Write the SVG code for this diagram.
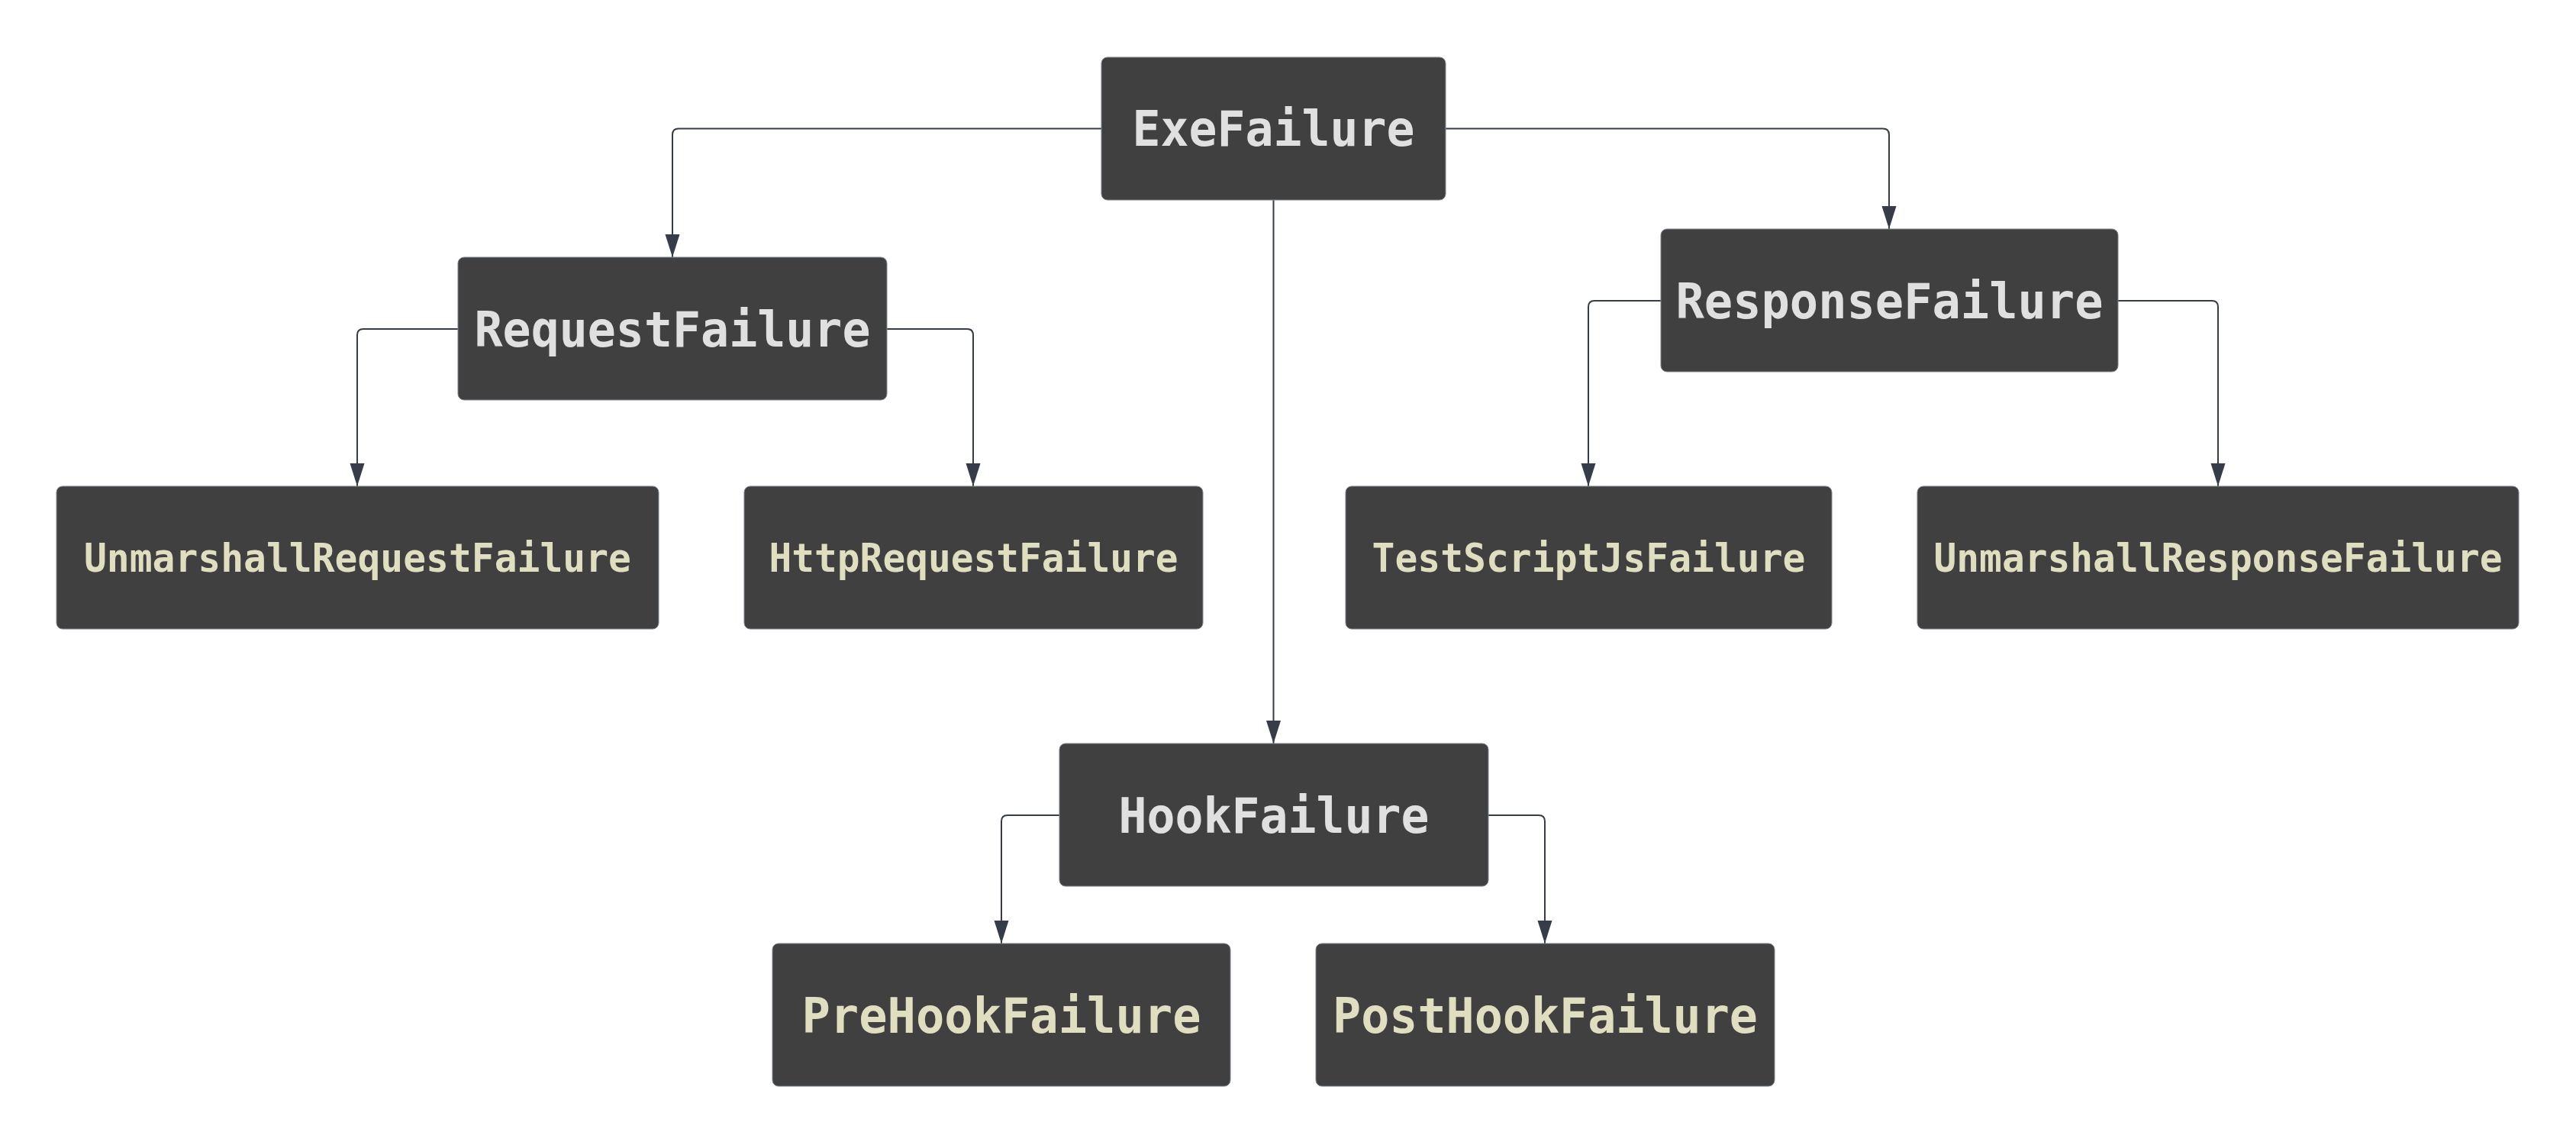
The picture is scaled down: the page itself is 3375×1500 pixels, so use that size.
<svg xmlns="http://www.w3.org/2000/svg" width="3375" height="1500" viewBox="0 0 3375 1500">
<style>
.box{fill:#404040;stroke:#7d8592;stroke-width:1}
.t1{font-family:"DejaVu Sans Mono","Liberation Mono",monospace;font-weight:bold;font-size:64px;fill:#e0e0e0;text-anchor:middle}
.t2{font-family:"DejaVu Sans Mono","Liberation Mono",monospace;font-weight:bold;font-size:51px;fill:#dfdec0;text-anchor:middle}
.t3{font-family:"DejaVu Sans Mono","Liberation Mono",monospace;font-weight:bold;font-size:64px;fill:#dfdec0;text-anchor:middle}
.edge{fill:none;stroke:#373d48;stroke-width:2;marker-end:url(#arr)}
</style>
<defs>
<marker id="arr" markerUnits="userSpaceOnUse" markerWidth="30" markerHeight="20" refX="30" refY="10" orient="auto">
<path d="M0,0.5 L30,10 L0,19.5 z" fill="#373d48"/>
</marker>
</defs>
<rect width="3375" height="1500" fill="#ffffff"/>
<g id="connectors">
<path class="edge" d="M1443,168.5 H889 Q881,168.5 881,176.5 V337"/>
<path class="edge" d="M1894,168.5 H2467 Q2475,168.5 2475,176.5 V300"/>
<path class="edge" d="M1668.5,262 V974"/>
<path class="edge" d="M600,431 H476 Q468,431 468,439 V637"/>
<path class="edge" d="M1162,431 H1267 Q1275,431 1275,439 V637"/>
<path class="edge" d="M2176,394 H2089 Q2081,394 2081,402 V637"/>
<path class="edge" d="M2775,394 H2898 Q2906,394 2906,402 V637"/>
<path class="edge" d="M1388,1068 H1320 Q1312,1068 1312,1076 V1236"/>
<path class="edge" d="M1950,1068 H2016 Q2024,1068 2024,1076 V1236"/>
</g>
<g id="ExeFailure">
<rect class="box" x="1443" y="75" width="451" height="187" rx="8"/>
<text class="t1" x="1668.5" y="191" textLength="370" lengthAdjust="spacingAndGlyphs">ExeFailure</text>
</g>
<g id="RequestFailure">
<rect class="box" x="600" y="337" width="562" height="187" rx="8"/>
<text class="t1" x="881" y="454" textLength="519" lengthAdjust="spacingAndGlyphs">RequestFailure</text>
</g>
<g id="ResponseFailure">
<rect class="box" x="2176" y="300" width="599" height="187" rx="8"/>
<text class="t1" x="2475.5" y="417" textLength="560" lengthAdjust="spacingAndGlyphs">ResponseFailure</text>
</g>
<g id="UnmarshallRequestFailure">
<rect class="box" x="74" y="637" width="789" height="187" rx="8"/>
<text class="t2" x="468.5" y="749" textLength="717" lengthAdjust="spacingAndGlyphs">UnmarshallRequestFailure</text>
</g>
<g id="HttpRequestFailure">
<rect class="box" x="975" y="637" width="601" height="187" rx="8"/>
<text class="t2" x="1275.5" y="749" textLength="536" lengthAdjust="spacingAndGlyphs">HttpRequestFailure</text>
</g>
<g id="TestScriptJsFailure">
<rect class="box" x="1763" y="637" width="637" height="187" rx="8"/>
<text class="t2" x="2081.5" y="749" textLength="568" lengthAdjust="spacingAndGlyphs">TestScriptJsFailure</text>
</g>
<g id="UnmarshallResponseFailure">
<rect class="box" x="2512" y="637" width="788" height="187" rx="8"/>
<text class="t2" x="2906" y="749" textLength="745" lengthAdjust="spacingAndGlyphs">UnmarshallResponseFailure</text>
</g>
<g id="HookFailure">
<rect class="box" x="1388" y="974" width="562" height="187" rx="8"/>
<text class="t1" x="1669" y="1091" textLength="407" lengthAdjust="spacingAndGlyphs">HookFailure</text>
</g>
<g id="PreHookFailure">
<rect class="box" x="1012" y="1236" width="600" height="187" rx="8"/>
<text class="t3" x="1312" y="1353" textLength="523" lengthAdjust="spacingAndGlyphs">PreHookFailure</text>
</g>
<g id="PostHookFailure">
<rect class="box" x="1724" y="1236" width="601" height="187" rx="8"/>
<text class="t3" x="2024.5" y="1353" textLength="557" lengthAdjust="spacingAndGlyphs">PostHookFailure</text>
</g>
</svg>
